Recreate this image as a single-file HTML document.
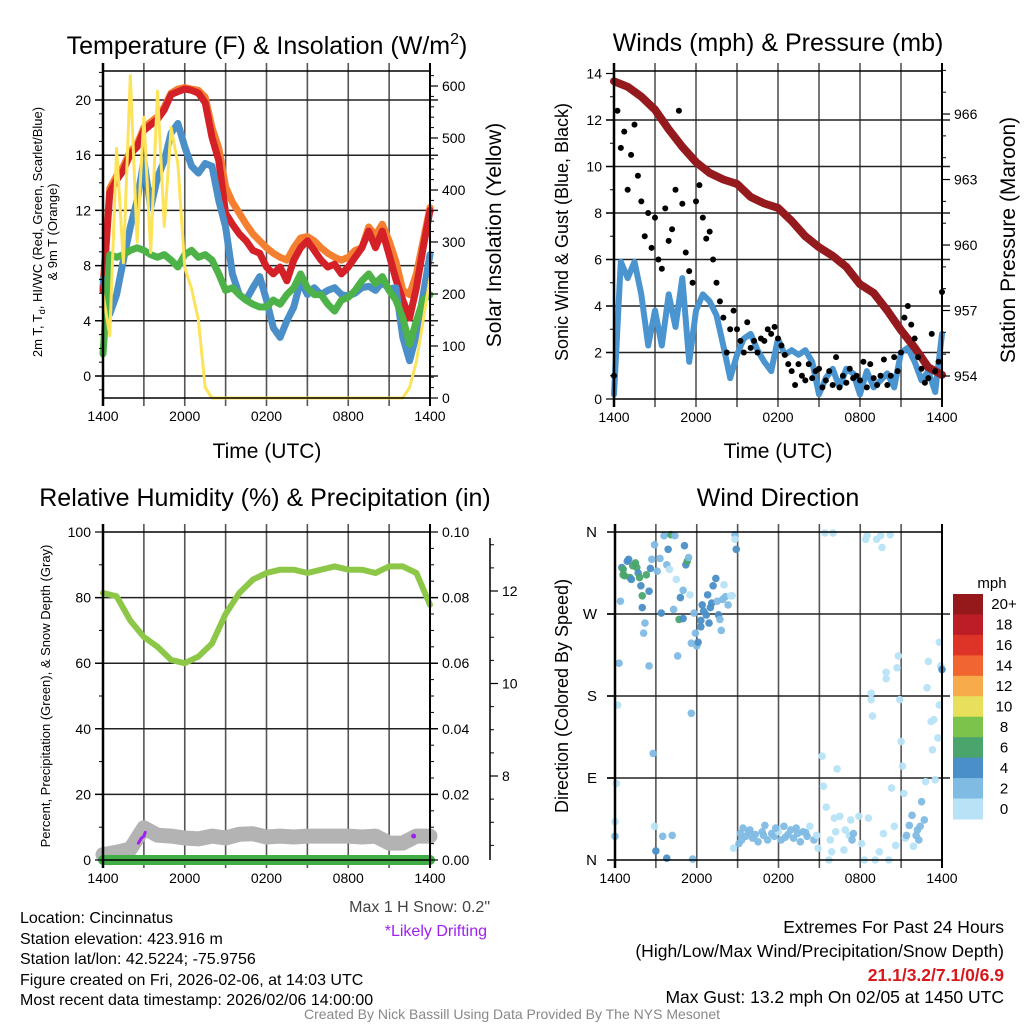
<!DOCTYPE html>
<html><head><meta charset="utf-8"><style>
html,body{margin:0;padding:0;background:#fff;}
svg{display:block;font-family:"Liberation Sans",Arial,sans-serif;}
</style></head><body>
<svg id="fig" xmlns="http://www.w3.org/2000/svg" width="1024" height="1024" viewBox="0 0 1024 1024">
<rect width="1024" height="1024" fill="#fff"/>
<g id="grid"></g>
<g id="marks"></g>
<g id="axes"></g>
<g font-size="25" text-anchor="middle" fill="#000">
<text x="267" y="54">Temperature (F) &amp; Insolation (W/m<tspan dy="-10" font-size="16">2</tspan><tspan dy="10">)</tspan></text>
<text x="778" y="51">Winds (mph) &amp; Pressure (mb)</text>
<text x="265" y="506">Relative Humidity (%) &amp; Precipitation (in)</text>
<text x="778" y="506">Wind Direction</text>
</g>
<g font-size="21" text-anchor="middle">
<text x="267" y="458">Time (UTC)</text>
<text x="778" y="458">Time (UTC)</text>
</g>
<text transform="translate(42,232) rotate(-90)" font-size="13" text-anchor="middle">2m T, T<tspan dy="3" font-size="9">d</tspan><tspan dy="-3">, HI/WC (Red, Green, Scarlet/Blue)</tspan></text>
<text transform="translate(57,232) rotate(-90)" font-size="13" text-anchor="middle">&amp; 9m T (Orange)</text>
<text transform="translate(501,235) rotate(-90)" font-size="21" text-anchor="middle">Solar Insolation (Yellow)</text>
<text transform="translate(568,232) rotate(-90)" font-size="18" text-anchor="middle">Sonic Wind &amp; Gust (Blue, Black)</text>
<text transform="translate(1015,240) rotate(-90)" font-size="21" text-anchor="middle">Station Pressure (Maroon)</text>
<text transform="translate(50,696) rotate(-90)" font-size="13" text-anchor="middle">Percent, Precipitation (Green), &amp; Snow Depth (Gray)</text>
<text transform="translate(568,696) rotate(-90)" font-size="18" text-anchor="middle">Direction (Colored By Speed)</text>
<g font-size="16" fill="#000">
<text x="20" y="923">Location: Cincinnatus</text>
<text x="20" y="944">Station elevation: 423.916 m</text>
<text x="20" y="964">Station lat/lon: 42.5224; -75.9756</text>
<text x="20" y="985">Figure created on Fri, 2026-02-06, at 14:03 UTC</text>
<text x="20" y="1005">Most recent data timestamp: 2026/02/06 14:00:00</text>
</g>
<text x="490" y="912" font-size="16" fill="#444" text-anchor="end">Max 1 H Snow: 0.2"</text>
<text x="487" y="936" font-size="16" fill="#a020f0" text-anchor="end">*Likely Drifting</text>
<g font-size="17.5" text-anchor="end">
<text x="1004" y="933">Extremes For Past 24 Hours</text>
<text x="1004" y="957">(High/Low/Max Wind/Precipitation/Snow Depth)</text>
<text x="1004" y="981" fill="#d7191c" font-weight="bold">21.1/3.2/7.1/0/6.9</text>
<text x="1004" y="1003">Max Gust: 13.2 mph On 02/05 at 1450 UTC</text>
</g>
<text x="512" y="1019" font-size="14" fill="#888" text-anchor="middle">Created By Nick Bassill Using Data Provided By The NYS Mesonet</text>
<g id="cbar"></g>
</svg>
<script>
// ---------- data ----------
var timeLabels = ["1400","2000","0200","0800","1400"];
var temp2m = [6.2,13.3,14.2,14.9,16.1,16.6,17.8,18.2,18.6,19.3,20.4,20.6,20.8,20.7,20.5,19.8,17.3,15.6,11.8,11.0,10.3,9.8,9.1,8.9,7.9,7.4,7.9,6.9,8.4,9.3,9.8,9.1,8.4,7.9,8.1,7.4,7.9,8.6,9.3,10.5,9.3,10.5,8.8,7.0,5.5,4.2,6.4,9.3,12.0];
var temp9m = [6.4,13.6,14.5,15.2,16.3,16.8,18.0,18.4,18.8,19.5,20.5,20.8,20.9,20.8,20.7,20.2,18.0,16.5,13.7,12.6,11.8,11.0,10.3,9.8,9.3,8.9,8.6,8.4,9.3,10.0,10.1,9.8,9.3,8.9,8.6,8.4,8.6,9.1,9.3,10.8,10.2,11.0,9.8,8.3,6.2,5.9,7.4,9.8,12.2];
var windChill = [7.0,4.5,5.9,8.4,10.8,12.7,15.6,12.2,14.4,15.6,17.6,18.3,16.6,15.2,14.7,15.4,15.2,12.7,10.8,7.4,5.9,5.5,6.4,7.2,5.5,3.5,2.8,4.0,5.0,6.9,5.9,6.4,5.9,6.2,6.4,5.9,5.8,6.0,6.4,6.5,6.2,6.8,6.3,6.4,2.8,1.1,3.0,5.9,8.8];
var dewPoint = [1.6,8.8,8.6,8.8,9.1,9.3,9.1,8.8,8.6,8.8,8.4,7.9,8.8,9.1,8.6,8.8,8.4,7.4,6.2,6.4,5.9,5.5,5.2,5.0,5.0,5.5,5.2,5.9,6.4,7.4,6.4,5.9,5.9,5.2,4.7,5.5,5.7,6.2,6.9,7.4,6.7,7.2,6.2,5.5,4.2,2.3,4.0,5.5,5.9];
var solar = [200,120,480,260,620,300,540,280,590,330,520,450,250,210,150,20,0,0,0,0,0,0,0,0,0,0,0,0,0,0,0,0,0,0,0,0,0,0,0,0,0,0,0,0,0,20,70,150,230];
var windSpeed = [0.2,5.9,5.2,5.9,4.5,2.3,3.8,2.3,4.5,3.1,5.2,1.6,3.8,4.5,4.2,3.6,2.3,0.9,1.9,2.6,2.8,2.1,1.6,1.2,2.6,1.9,2.1,1.9,2.1,1.6,0.2,0.9,1.3,0.5,1.3,1.1,0.2,1.2,0.5,0.8,1.1,0.5,2.0,2.2,1.6,0.8,1.2,0.3,2.8];
var windGust = [1.0,12.4,10.8,11.5,9.0,10.5,11.8,9.6,8.5,7.0,8.0,6.5,7.8,6.0,5.6,8.2,6.8,7.3,9.0,12.4,8.4,6.3,5.5,5.0,8.5,9.2,7.8,6.9,7.2,6.0,5.0,4.2,3.5,2.0,3.0,3.8,3.0,2.5,2.0,3.3,2.2,2.5,2.0,2.6,2.5,3.0,2.8,3.1,2.6,2.3,1.9,1.5,1.2,0.6,1.5,1.0,0.8,1.5,0.9,1.2,1.3,0.5,0.8,1.2,0.6,1.8,0.5,1.0,0.7,1.3,0.9,1.0,0.8,1.6,0.5,1.5,0.9,0.6,1.0,1.7,0.6,1.0,1.8,1.2,2.0,3.5,4.0,3.2,2.6,1.8,1.3,0.7,0.9,2.8,1.2,1.6,4.6];
var pressure = [967.5,967.25,966.8,966.2,965.3,964.5,963.8,963.3,963.0,962.8,962.2,961.9,961.7,961.1,960.4,959.9,959.5,959.0,958.2,957.8,957.0,956.1,955.3,954.4,954.05];
var relHum = [81.4,80.4,73,68,65,61,60,62,66,75,81.4,85.5,87.5,88.5,88.5,87.5,88.5,89.5,88.5,88.5,87.5,89.5,89.5,87.5,77.8];
var snowDepth = [6.30,6.35,6.42,6.88,6.72,6.70,6.66,6.64,6.70,6.66,6.74,6.75,6.68,6.70,6.68,6.70,6.70,6.70,6.70,6.68,6.70,6.55,6.55,6.70,6.70];
var precip = [0,0,0,0,0,0,0,0,0,0,0,0,0,0,0,0,0,0,0,0,0,0,0,0,0];
var driftHours = [2.6,2.8,3.0,3.1];
var driftDepth = [6.55,6.65,6.70,6.78];
var driftDotHour = [22.8];
var driftDotDepth = [6.70];
var dirHours = [0,0,0.1,0.2,0.3,0.4,0.5,0.6,0.6,0.7,0.9,1,1.1,1.2,1.3,1.5,1.6,1.7,1.8,1.9,2,2,2.2,2.1,2.3,2.5,2.5,2.6,2.7,2.8,2.9,2.9,3,3.1,3.3,3.4,3.5,3.6,3.8,3.8,3.9,4,4.1,4.2,4.3,4.4,4.5,4.6,4.7,4.8,5,5,5.1,5.2,5.3,5.4,5.5,5.6,5.6,5.7,5.8,5.9,6,6.1,6.3,6.3,6.4,6.5,6.7,6.8,6.9,7,7.1,7.2,7.4,7.5,7.6,7.7,7.8,7.9,8,8.1,8.3,8.5,8.6,8.7,8.8,8.8,8.9,
9.1,9.2,9.4,9.6,9.9,10.1,10.3,10.5,10.8,11,11.2,11.5,11.7,12,12.2,12.4,12.7,12.9,13.1,13.4,13.6,13.8,14.1,14.3,14.6,14.8,14.9,9.3,9.8,10.9,11.8,12.5,13.3,14,
15.2,15.3,15.4,15.5,15.7,15.8,15.9,16,16.1,16.2,16.3,16.5,16.8,16.9,17.2,17.3,17.4,17.5,17.9,18.1,18.3,18.4,18.5,18.6,18.8,18.8,18.9,19.1,19.2,19.4,19.5,19.6,19.7,19.9,19.9,20.1,20.2,20.3,20.5,20.6,20.7,20.8,20.9,21,21.1,21.2,21.3,21.4,21.6,21.8,21.9,22.1,22.2,22.3,22.4,22.5,22.7,22.8,22.9,23,23.2,23.3,23.4,23.5,23.7,23.8,23.8,23.9,24];
var dirDegrees = [26,42,84,170,216,284,321,319,313,312,328,330,310,308,323,326,321,315,310,301,290,277,260,249,313,295,213,320,330,117,37,346,10,317,331,271,26,356,324,2,341,319,357,27,275,356,308,224,264,288,265,296,345,324,328,332,291,238,161,1,271,249,235,239,256,263,280,273,269,291,260,277,282,301,309,284,269,264,252,286,302,289,280,290,290,13,357,352,341,
18,29,35,26,33,24,28,20,31,38,22,29,26,31,22,37,28,33,24,29,20,31,26,37,22,27,13,22,30,27,35,25,35,30,
114,81,359,58,0,22,9,359,46,31,100,48,11,33,27,44,22,29,48,18,0,352,356,46,183,176,158,0,352,9,356,343,29,199,206,0,357,79,37,16,211,224,176,130,103,73,24,27,38,49,15,27,33,22,37,64,44,86,189,218,152,121,154,88,134,170,239,213,209];
var dirSpeeds = [3,1.5,1.5,1.5,3,3,5,7,7,7,5,5,7,5,7,7,7,5,7,5,7,5,3,3,7,5,3,5,3,3,1,3,5,3,3,5,3,3,3,5,5,1,7,3,3,3,1,3,7,5,5,3,5,5,7,3,1,3,3,3,3,3,3,5,5,5,5,5,5,5,5,5,5,5,5,3,5,3,3,3,1,3,3,1,1,1,3,1,5,
3,3,3,3,3,3,3,3,3,3,3,3,3,1,3,3,3,3,3,3,3,3,3,1,3,1,1,3,3,3,3,3,3,3,
1,1,1,1,1,1,1,1,1,1,1,1,1,1,1,1,3,3,1,1,1,1,1,1,1,1,1,1,1,1,1,1,1,1,1,1,1,1,1,1,1,1,1,1,1,1,1,3,3,3,1,3,3,3,3,3,3,1,1,1,1,1,1,1,1,1,1,1,5];
var speedBins = ["0","2","4","6","8","10","12","14","16","18","20+"];
var speedColors = ["#b8e3f7","#80bbe4","#4a8fc7","#4aa56d","#7cc34b","#e8e05a","#f7ab4a","#f06530","#dd3427","#bd1d24","#95181a"];

// ---------- scales ----------
function xA(t){return 103+t/24*327;}
function xB(t){return 614+t/24*328;}
function xD(t){return 615+t/24*327;}
function yTemp(v){return 376-v*13.8;}
function ySolar(w){return 398-w*0.52;}
function yWind(m){return 399-m*23.25;}
function yPres(p){return 376-(p-954)*21.83;}
function yRH(v){return 860-v*3.28;}
function yPrecip(p){return 860-p*3280;}
function ySnow(s){return 776-(s-8)*46.25;}
function yDir(d){return 860-d/360*328;}

var NS="http://www.w3.org/2000/svg";
function mk(tag,attrs,parent){var e=document.createElementNS(NS,tag);for(var k in attrs)e.setAttribute(k,attrs[k]);parent.appendChild(e);return e;}
var G=document.getElementById('grid'),M=document.getElementById('marks'),A=document.getElementById('axes');

function series(arr,step,xf,yf){var s="";for(var i=0;i<arr.length;i++){s+=(i?"L":"M")+xf(i*step).toFixed(1)+","+yf(arr[i]).toFixed(1);}return s;}

function frame(x0,x1,y0,y1,xf,hLines,name){
  for(var h=3;h<24;h+=3){var l=mk('line',{x1:xf(h),x2:xf(h),y1:y0-8,y2:y1+8,stroke:'#555','stroke-width':1.6},G);
    }
  hLines.forEach(function(y){var l=mk('line',{x1:x0-8,x2:x1+8,y1:y,y2:y,stroke:'#222','stroke-width':1.5},G);
    });
  var r=mk('rect',{x:x0,y:y0,width:x1-x0,height:y1-y0,fill:'none',stroke:'#000','stroke-width':1.5},A);
  
  mk('line',{x1:x0,x2:x0,y1:y0-8,y2:y1+8,stroke:'#000','stroke-width':2.5},A);
  mk('line',{x1:x1,x2:x1,y1:y0-8,y2:y1+8,stroke:'#000','stroke-width':2},A);
  for(var i=0;i<timeLabels.length;i++){var t=mk('text',{x:xf(i*6),y:y1+23,'font-size':14,'text-anchor':'middle'},A);t.textContent=timeLabels[i];
    }
}
function yTicks(vals,yf,x,side,labelFn,minor,name){
  vals.forEach(function(v){var y=yf(v);mk('line',{x1:x,x2:x+side*8,y1:y,y2:y,stroke:'#000','stroke-width':1.2},A);
    if(labelFn){var t=mk('text',{x:x+side*12,y:y+5,'font-size':14,'text-anchor':side<0?'end':'start'},A);t.textContent=labelFn(v);
    }});
  (minor||[]).forEach(function(v){var y=yf(v);mk('line',{x1:x,x2:x+side*4,y1:y,y2:y,stroke:'#000','stroke-width':1},A);});
}
function rng(a,b,s){var r=[];for(var v=a;v<=b+1e-9;v+=s)r.push(+v.toFixed(4));return r;}

frame(103,430,71,398,xA,[0,4,8,12,16,20].map(yTemp),'temp-panel');
yTicks([0,4,8,12,16,20],yTemp,103,-1,function(v){return v;},rng(-1,22,1).filter(function(v){return v%4;}),'temp-left');
yTicks(rng(0,600,100),ySolar,430,1,function(v){return v;},rng(0,620,20).filter(function(v){return v%100;}),'solar-right');
frame(614,942,71,399,xB,rng(2,12,2).map(yWind),'wind-panel');
yTicks(rng(0,14,2),yWind,614,-1,function(v){return v;},rng(1,13,2),'wind-left');
yTicks([954,957,960,963,966],yPres,942,1,function(v){return v;},rng(954,968,1).filter(function(v){return (v-954)%3;}),'pressure-right');
frame(103,430,532,860,xA,[20,40,60,80].map(yRH),'rh-panel');
yTicks(rng(0,100,20),yRH,103,-1,function(v){return v;},rng(10,90,20),'rh-left');
yTicks(rng(0,0.1,0.02),yPrecip,430,1,function(v){return v.toFixed(2);},rng(0.005,0.1,0.005).filter(function(v){return Math.round(v*1000)%20;}),'precip-right');
mk('line',{x1:490,x2:490,y1:538,y2:860,stroke:'#000','stroke-width':1.5},A);
yTicks([8,10,12],ySnow,490,1,function(v){return v;},rng(6.5,13,0.5).filter(function(v){return v%2;}),'snow-right');
frame(615,942,532,860,xD,[90,180,270].map(yDir),'direction-panel');
[["N",0],["E",90],["S",180],["W",270],["N",360]].forEach(function(p){var y=yDir(p[1]);mk('line',{x1:607,x2:615,y1:y,y2:y,stroke:'#000','stroke-width':1.5},A);
  var t=mk('text',{x:597,y:y+5,'font-size':15,'text-anchor':'end'},A);t.textContent=p[0];
  });

function path(d,color,w,name){var p=mk('path',{d:d,fill:'none',stroke:color,'stroke-width':w,'stroke-linejoin':'round','stroke-linecap':'round'},M);
  return p;}
path(series(temp9m,0.5,xA,yTemp),'#f47f30',7,'temp-9m-line');
path(series(temp2m,0.5,xA,yTemp),'#d42027',7,'temp-2m-line');
path(series(windChill,0.5,xA,yTemp),'#4a8fc7',7,'wind-chill-line');
path(series(dewPoint,0.5,xA,yTemp),'#4db348',7,'dewpoint-line');
path(series(solar,0.5,xA,ySolar),'#fde35a',3,'solar-line');

path(series(windSpeed,0.5,xB,yWind),'#4a94d0',6,'wind-speed-line');
path(series(pressure,1,xB,yPres),'#951a1d',8,'pressure-line');
windGust.forEach(function(g,i){var c=mk('circle',{cx:xB(i*0.25),cy:yWind(g),r:3,fill:'#000'},M);
  });

path(series(snowDepth,1,xA,ySnow),'#b3b3b3',15,'snow-depth-line');
path(series(precip,1,xA,yPrecip),'#41ad47',10,'precip-line');
path(series(relHum,1,xA,yRH),'#8dc748',6,'rh-line');
var dd="";driftHours.forEach(function(h,i){dd+=(i?"L":"M")+xA(h).toFixed(1)+","+ySnow(driftDepth[i]).toFixed(1);});
path(dd,'#a020f0',3,'drifting-segment');
driftDotHour.forEach(function(h,i){var c=mk('circle',{cx:xA(h),cy:ySnow(driftDotDepth[i]),r:2.5,fill:'#a020f0'},M);
  });

function speedColor(s){var i=Math.min(10,Math.floor(s/2));return speedColors[i];}
dirHours.forEach(function(h,i){var c=mk('circle',{cx:xD(h),cy:yDir(dirDegrees[i]),r:3.8,fill:speedColor(dirSpeeds[i]),'fill-opacity':0.95},M);
  });

var CB=document.getElementById('cbar');
var mt=mk('text',{x:992,y:588,'font-size':15,'text-anchor':'middle'},CB);mt.textContent='mph';

var bh=(819-594)/speedBins.length;
for(var i=0;i<speedBins.length;i++){var k=speedBins.length-1-i;var y=594+i*bh;
  var r=mk('rect',{x:953,y:y,width:30,height:bh+0.5,fill:speedColors[k]},CB);
  
  var t=mk('text',{x:1004,y:y+bh/2+5,'font-size':15,'text-anchor':'middle'},CB);t.textContent=speedBins[k];
  }
</script>
</body></html>
